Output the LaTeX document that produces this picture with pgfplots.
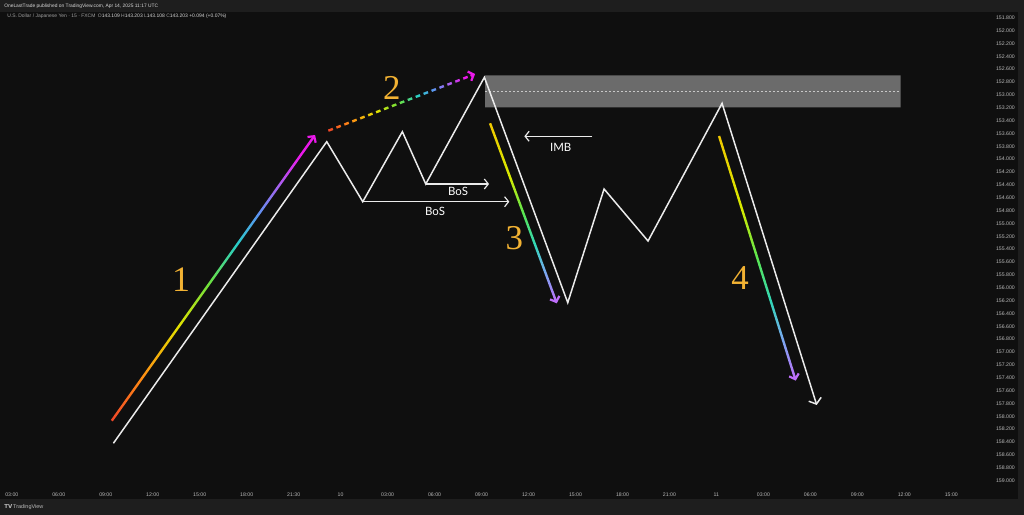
\documentclass[border=0pt]{standalone}
\usepackage{fontspec}
\setmainfont{Liberation Sans}
\newfontfamily\numfont{Liberation Serif}
\newfontfamily\lblfont{Lato}
\newfontfamily\dvfont{DejaVu Sans}
\usepackage{pgfplots}
\pgfplotsset{compat=1.18}
\usetikzlibrary{arrows.meta,calc}

\definecolor{outerbg}{RGB}{30,30,30}
\definecolor{panelbg}{RGB}{15,15,15}
\definecolor{ticklbl}{RGB}{185,185,185}
\definecolor{boxgray}{RGB}{107,107,107}
\definecolor{dashgray}{RGB}{200,200,200}
\definecolor{numcol}{RGB}{242,178,51}
\definecolor{hdr}{RGB}{215,215,215}
\definecolor{gray2}{RGB}{160,160,160}
\definecolor{wline}{RGB}{235,235,235}
% rainbow A
\definecolor{a0}{RGB}{240,70,40}
\definecolor{a1}{RGB}{255,140,20}
\definecolor{a2}{RGB}{228,225,0}
\definecolor{a3}{RGB}{110,225,60}
\definecolor{a4}{RGB}{40,205,200}
\definecolor{a5}{RGB}{90,150,240}
\definecolor{a6}{RGB}{170,95,240}
\definecolor{a7}{RGB}{235,25,235}
% rainbow C
\definecolor{c0}{RGB}{240,200,0}
\definecolor{c1}{RGB}{215,235,0}
\definecolor{c2}{RGB}{90,230,80}
\definecolor{c3}{RGB}{50,215,185}
\definecolor{c4}{RGB}{120,170,240}
\definecolor{c5}{RGB}{190,110,250}

\pgfdeclarehorizontalshading{rbA}{100bp}{color(0bp)=(a0); color(25bp)=(a0); color(32.5bp)=(a1); color(41.5bp)=(a2); color(49bp)=(a3); color(56bp)=(a4); color(61bp)=(a5); color(66.5bp)=(a6); color(71.5bp)=(a7); color(75bp)=(a7); color(100bp)=(a7)}
\pgfdeclarehorizontalshading{rbC}{100bp}{color(0bp)=(c0); color(25bp)=(c0); color(40bp)=(c1); color(50bp)=(c2); color(59bp)=(c3); color(66.5bp)=(c4); color(75bp)=(c5); color(100bp)=(c5)}

\newcommand\gradarrow[5]{%
  \path let \p1=(#1), \p2=(#2) in \pgfextra{%
    \pgfmathsetmacro\tmpA{atan2(\y2-\y1,\x2-\x1)}\global\let\gA\tmpA
    \pgfmathsetmacro\tmpL{veclen(\x2-\x1,\y2-\y1)}\global\let\gL\tmpL
    \xdef\gX{\x1}\xdef\gY{\y1}};
  \begin{scope}[transform canvas={shift={(\gX,\gY)},rotate=\gA}]
    \shade[shading=#3] (0pt,-1.2bp) rectangle (\gL pt-1.5bp,1.2bp);
    #5
    \draw[#4, line width=2.2bp, -{Straight Barb[length=4.5bp,width=10bp]}] (\gL pt-4bp,0) -- (\gL pt,0);
  \end{scope}}

\begin{document}
\begin{tikzpicture}[x=1bp,y=1bp]
\fill[outerbg] (0,0) rectangle (1024,515);
\begin{axis}[
  at={(0bp,16bp)}, anchor=south west,
  width=1018bp, height=487bp, scale only axis,
  xmin=-0.249, xmax=21.42, ymin=151.711, ymax=159.285, y dir=reverse,
  axis background/.style={fill=panelbg},
  axis line style={draw=none},
  major tick length=0pt,
  scaled y ticks=false,
  xtick={0,1,2,3,4,5,6,7,8,9,10,11,12,13,14,15,16,17,18,19,20},
  xticklabels={03:00,06:00,09:00,12:00,15:00,18:00,21:30,10,03:00,06:00,09:00,12:00,15:00,18:00,21:00,11,03:00,06:00,09:00,12:00,15:00},
  ytick={151.8,152,152.2,152.4,152.6,152.8,153,153.2,153.4,153.6,153.8,154,154.2,154.4,154.6,154.8,155,155.2,155.4,155.6,155.8,156,156.2,156.4,156.6,156.8,157,157.2,157.4,157.6,157.8,158,158.2,158.4,158.6,158.8,159},
  yticklabel pos=right,
  /pgf/number format/assume math mode=true,
  tick label style={font=\fontsize{5.2}{6}\selectfont, text=ticklbl, inner sep=0pt},
  xticklabel style={anchor=center, yshift=4.3bp},
  yticklabel style={anchor=east, xshift=-3bp, /pgf/number format/.cd, fixed, fixed zerofill, precision=3, 1000 sep={}},
  clip=false,
]
% supply zone box
\addplot[draw=none, fill=boxgray] coordinates {(10.075,152.696) (18.923,152.696) (18.923,153.193) (10.075,153.193) (10.075,152.696)};
\addplot[dashgray, line width=0.6bp, dash pattern=on 2bp off 2bp] coordinates {(10.075,152.945) (18.923,152.945)};
% price path
\addplot[wline, line width=1.5bp, line join=miter, -{Straight Barb[length=5bp,width=13bp]}] coordinates {
 (2.163,158.419) (6.705,153.728) (7.471,154.662) (8.314,153.573) (8.812,154.386)
 (10.060,152.727) (11.835,156.232) (12.608,154.464) (13.544,155.273) (15.120,153.131) (17.135,157.823)};
% BoS arrows
\addplot[wline, line width=1.2bp, -{Straight Barb[length=4bp,width=10bp]}] coordinates {(8.812,154.386) (10.160,154.386)};
\addplot[wline, line width=1.2bp, -{Straight Barb[length=4bp,width=10bp]}] coordinates {(7.471,154.662) (10.592,154.662)};
% IMB arrow
\addplot[wline, line width=1.2bp, -{Straight Barb[length=4bp,width=10bp]}] coordinates {(12.359,153.644) (10.911,153.644)};
% gradient arrow anchors
\addplot[draw=none] coordinates {(2.129,158.068) (6.456,153.624)} coordinate[pos=0] (g1a) coordinate[pos=1] (g1b);
\addplot[draw=none] coordinates {(6.739,153.557) (9.862,152.676)} coordinate[pos=0] (g2a) coordinate[pos=1] (g2b);
\addplot[draw=none] coordinates {(10.181,153.442) (11.601,156.242)} coordinate[pos=0] (g3a) coordinate[pos=1] (g3b);
\addplot[draw=none] coordinates {(15.056,153.640) (16.688,157.445)} coordinate[pos=0] (g4a) coordinate[pos=1] (g4b);
% labels
\node[text=white, font=\lblfont\fontsize{11.5}{12}\selectfont, inner sep=0] at (axis cs:9.500,154.506) {BoS};
\node[text=white, font=\lblfont\fontsize{11.5}{12}\selectfont, inner sep=0] at (axis cs:9.010,154.817) {BoS};
\node[text=white, font=\lblfont\fontsize{11.5}{12}\selectfont, inner sep=0] at (axis cs:11.686,153.811) {IMB};
\node[text=numcol, font=\numfont\fontsize{36}{36}\selectfont, inner sep=0] at (axis cs:3.604,155.868) {1};
\node[text=numcol, font=\numfont\fontsize{35}{35}\selectfont, inner sep=0] at (axis cs:8.089,152.898) {2};
\node[text=numcol, font=\numfont\fontsize{35}{35}\selectfont, inner sep=0] at (axis cs:10.698,155.231) {3};
\node[text=numcol, font=\numfont\fontsize{35}{35}\selectfont, inner sep=0] at (axis cs:15.503,155.853) {4};
\end{axis}
\gradarrow{g1a}{g1b}{rbA}{a7}{}
\gradarrow{g2a}{g2b}{rbA}{a7}{\draw[panelbg, line width=3.6bp, dash pattern=on 3.5bp off 5bp, dash phase=3.5bp] (0,0) -- (\gL pt-5bp,0);}
\gradarrow{g3a}{g3b}{rbC}{c5}{}
\gradarrow{g4a}{g4b}{rbC}{c5}{}
% header / footer
\node[anchor=west, inner sep=0, text=hdr, font=\fontsize{4.9}{6}\selectfont] at (4,509) {OneLastTrade published on TradingView.com, Apr 14, 2025 11:17 UTC};
\node[anchor=west, inner sep=0, text=gray2, font=\fontsize{5}{6}\selectfont] at (7,498.3) {U.S. Dollar / Japanese Yen · 15 · FXCM\enspace O\textcolor{hdr}{143.109} H\textcolor{hdr}{143.203} L\textcolor{hdr}{143.108} C\textcolor{hdr}{143.203} \textcolor{hdr}{+0.094 (+0.07\%)}};
\node[anchor=west, inner sep=0, text=ticklbl, font=\fontsize{5.5}{6}\selectfont] at (4,8) {{\dvfont\bfseries TV}\,TradingView};
\end{tikzpicture}
\end{document}
